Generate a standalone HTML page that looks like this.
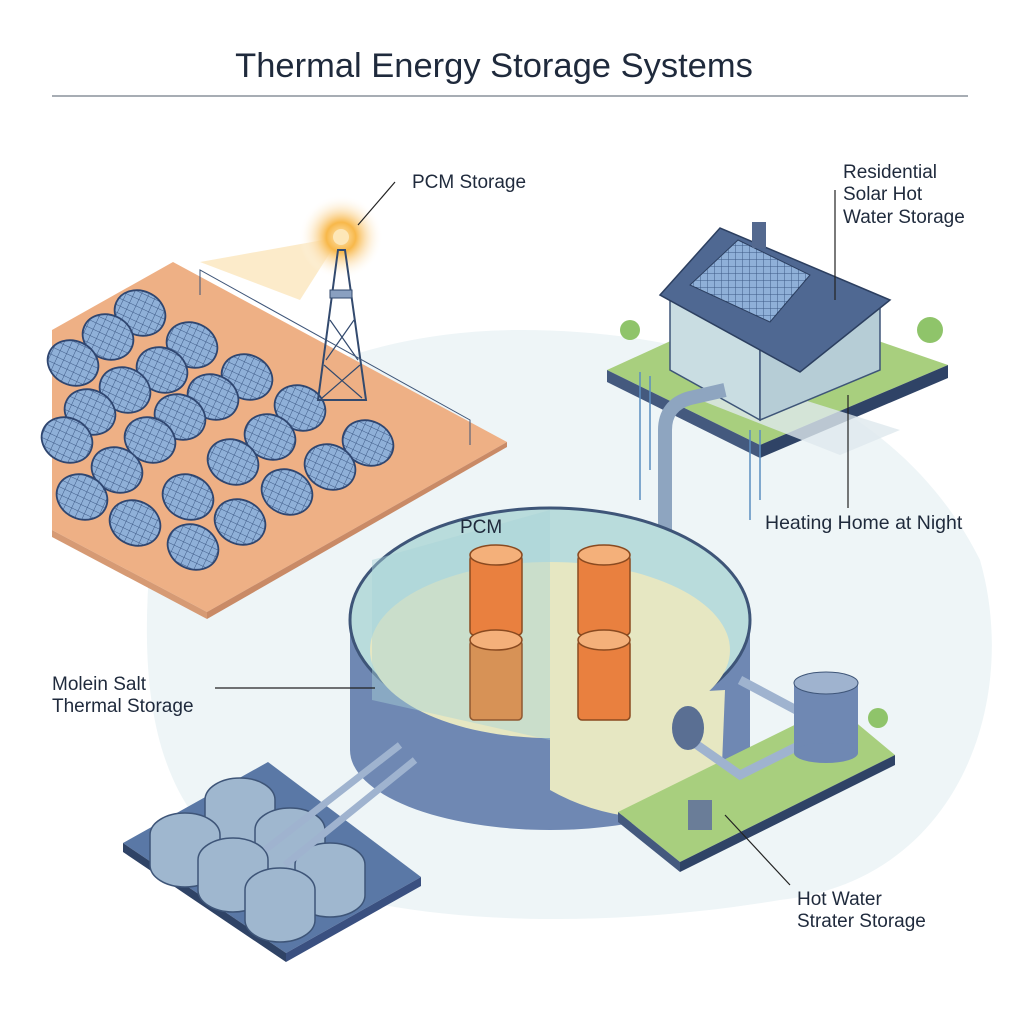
<!DOCTYPE html>
<html><head><meta charset="utf-8"><style>
html,body{margin:0;padding:0;background:#fff;}
svg{display:block}
text{font-family:"Liberation Sans",sans-serif;fill:#1f2a3c}
</style></head><body>
<svg width="1024" height="1024" viewBox="0 0 1024 1024">
<defs>
<pattern id="grid" width="7" height="7" patternUnits="userSpaceOnUse">
<rect width="7" height="7" fill="#8fb0d8"/><path d="M0,0 H7 M0,0 V7" stroke="#3e5a86" stroke-width="1"/>
</pattern>
<radialGradient id="sun"><stop offset="0" stop-color="#fde7b8"/><stop offset="0.35" stop-color="#f8b84a"/><stop offset="0.6" stop-color="#fbd9a0" stop-opacity="0.7"/><stop offset="1" stop-color="#fff" stop-opacity="0"/></radialGradient>
</defs>
<rect width="1024" height="1024" fill="#fff"/>
<text x="494" y="77" font-size="34.5" text-anchor="middle" fill="#1e2a44">Thermal Energy Storage Systems</text>
<line x1="52" y1="96" x2="968" y2="96" stroke="#8a929c" stroke-width="1.5"/>

<path d="M150,560 C160,420 330,330 520,330 C720,330 900,400 980,560 C1020,700 960,880 780,900 C600,930 380,930 240,860 C150,800 140,680 150,560Z" fill="#eef5f7"/>

<!-- solar field -->
<path d="M52,330 L173,262 L507,442 L207,612 L52,530Z" fill="#eeb085"/>
<path d="M52,530 L207,612 L207,619 L52,537Z" fill="#d69a74"/>
<path d="M207,612 L507,442 L507,447 L207,619Z" fill="#c98a66"/>
<path d="M200,262 L340,237 L300,300Z" fill="#fbe2b4" opacity="0.7"/>
<g fill="url(#grid)" stroke="#2f4670" stroke-width="1.8">
<ellipse cx="140" cy="313" rx="26" ry="22" transform="rotate(25 140 313)"/>
<ellipse cx="108" cy="337" rx="26" ry="22" transform="rotate(25 108 337)"/>
<ellipse cx="192" cy="345" rx="26" ry="22" transform="rotate(25 192 345)"/>
<ellipse cx="73" cy="363" rx="26" ry="22" transform="rotate(25 73 363)"/>
<ellipse cx="162" cy="370" rx="26" ry="22" transform="rotate(25 162 370)"/>
<ellipse cx="247" cy="377" rx="26" ry="22" transform="rotate(25 247 377)"/>
<ellipse cx="125" cy="390" rx="26" ry="22" transform="rotate(25 125 390)"/>
<ellipse cx="213" cy="397" rx="26" ry="22" transform="rotate(25 213 397)"/>
<ellipse cx="90" cy="412" rx="26" ry="22" transform="rotate(25 90 412)"/>
<ellipse cx="180" cy="417" rx="26" ry="22" transform="rotate(25 180 417)"/>
<ellipse cx="300" cy="408" rx="26" ry="22" transform="rotate(25 300 408)"/>
<ellipse cx="67" cy="440" rx="26" ry="22" transform="rotate(25 67 440)"/>
<ellipse cx="150" cy="440" rx="26" ry="22" transform="rotate(25 150 440)"/>
<ellipse cx="270" cy="437" rx="26" ry="22" transform="rotate(25 270 437)"/>
<ellipse cx="368" cy="443" rx="26" ry="22" transform="rotate(25 368 443)"/>
<ellipse cx="117" cy="470" rx="26" ry="22" transform="rotate(25 117 470)"/>
<ellipse cx="233" cy="462" rx="26" ry="22" transform="rotate(25 233 462)"/>
<ellipse cx="330" cy="467" rx="26" ry="22" transform="rotate(25 330 467)"/>
<ellipse cx="82" cy="497" rx="26" ry="22" transform="rotate(25 82 497)"/>
<ellipse cx="188" cy="497" rx="26" ry="22" transform="rotate(25 188 497)"/>
<ellipse cx="287" cy="492" rx="26" ry="22" transform="rotate(25 287 492)"/>
<ellipse cx="135" cy="523" rx="26" ry="22" transform="rotate(25 135 523)"/>
<ellipse cx="240" cy="522" rx="26" ry="22" transform="rotate(25 240 522)"/>
<ellipse cx="193" cy="547" rx="26" ry="22" transform="rotate(25 193 547)"/>
</g>
<circle cx="341" cy="237" r="42" fill="url(#sun)"/>
<circle cx="341" cy="237" r="8" fill="#fde7b8"/>
<path d="M338,250 L318,400 L366,400 L345,250Z" fill="none" stroke="#334a6e" stroke-width="2"/>
<rect x="330" y="290" width="22" height="8" fill="#8aa0c0" stroke="#334a6e"/>
<path d="M330,320 L358,360 M354,320 L326,360 M324,365 L362,398 M360,365 L322,398" stroke="#334a6e" stroke-width="1.2"/>
<path d="M200,295 L200,270 L470,420 L470,445" fill="none" stroke="#3e5578" stroke-width="1"/>
<line x1="395" y1="182" x2="358" y2="225" stroke="#222" stroke-width="1.2"/>
<text x="412" y="188" font-size="19">PCM Storage</text>

<!-- house platform -->
<path d="M607,370 L760,300 L948,365 L760,445Z" fill="#a8cf7e"/>
<path d="M607,370 L760,445 L760,458 L607,382Z" fill="#44597e"/>
<path d="M760,445 L948,365 L948,378 L760,458Z" fill="#2f4366"/>
<path d="M700,400 L740,380 L900,430 L840,455Z" fill="#dfe9ee" opacity="0.8"/>
<path d="M670,300 L670,370 L760,420 L760,330Z" fill="#c9dde2" stroke="#3e5578" stroke-width="1.5"/>
<path d="M760,330 L760,420 L880,370 L880,300Z" fill="#b6cdd6" stroke="#3e5578" stroke-width="1.5"/>
<path d="M660,295 L720,228 L890,300 L800,372Z" fill="#4f6892" stroke="#2c3f60" stroke-width="1.5"/>
<path d="M690,285 L738,240 L810,275 L770,322Z" fill="url(#grid)" stroke="#2c3f60" stroke-width="1"/>
<rect x="752" y="222" width="14" height="26" fill="#54698f"/>
<line x1="835" y1="190" x2="835" y2="300" stroke="#222" stroke-width="1.2"/>
<text x="843" y="178" font-size="19">Residential</text>
<text x="843" y="200" font-size="19">Solar Hot</text>
<text x="843" y="223" font-size="19">Water Storage</text>
<circle cx="630" cy="330" r="10" fill="#8fc46a"/><circle cx="930" cy="330" r="13" fill="#8fc46a"/>
<line x1="848" y1="395" x2="848" y2="508" stroke="#222" stroke-width="1.2"/>
<text x="765" y="529" font-size="19.5">Heating Home at Night</text>

<path d="M665,585 L665,430 Q665,405 690,398 L725,390" fill="none" stroke="#8ea5c0" stroke-width="14"/>
<path d="M640,372 L640,500 M650,376 L650,470 M750,430 L750,520 M760,430 L760,500" stroke="#5b8ec1" stroke-width="1.5"/>

<!-- main tank -->
<path d="M350,620 L350,750 A200,80 0 0 0 750,750 L750,620Z" fill="#6f88b3"/>
<ellipse cx="550" cy="620" rx="200" ry="112" fill="#b9dcdc" stroke="#3e5578" stroke-width="3"/>
<ellipse cx="550" cy="650" rx="180" ry="88" fill="#e6e7c2"/>
<path d="M550,700 L550,790 Q620,830 720,815 L725,690Z" fill="#e6e7c2"/>
<path d="M550,510 L372,560 L372,700 L550,740Z" fill="#a9d3d6" opacity="0.45"/>
<g stroke="#8a4a20" stroke-width="1.5">
<rect x="470" y="555" width="52" height="80" rx="4" fill="#e9803f"/><ellipse cx="496" cy="555" rx="26" ry="10" fill="#f4b07a"/>
<rect x="578" y="555" width="52" height="80" rx="4" fill="#e9803f"/><ellipse cx="604" cy="555" rx="26" ry="10" fill="#f4b07a"/>
<rect x="470" y="640" width="52" height="80" rx="4" fill="#d98a4a" opacity="0.9"/><ellipse cx="496" cy="640" rx="26" ry="10" fill="#f4b07a"/>
<rect x="578" y="640" width="52" height="80" rx="4" fill="#e9803f"/><ellipse cx="604" cy="640" rx="26" ry="10" fill="#f4b07a"/>
</g>
<text x="460" y="533" font-size="19">PCM</text>
<line x1="215" y1="688" x2="375" y2="688" stroke="#222" stroke-width="1.2"/>
<text x="52" y="690" font-size="19">Molein Salt</text>
<text x="52" y="712" font-size="19">Thermal Storage</text>

<!-- right platform -->
<path d="M618,812 L835,705 L895,755 L680,862Z" fill="#a8cf7e"/>
<path d="M618,812 L680,862 L680,872 L618,822Z" fill="#44597e"/>
<path d="M680,862 L895,755 L895,765 L680,872Z" fill="#2f4366"/>
<path d="M740,680 L800,712 M690,740 L740,775 L800,745" fill="none" stroke="#9fb3cf" stroke-width="9"/>
<ellipse cx="688" cy="728" rx="16" ry="22" fill="#5a6f93"/>
<rect x="794" y="683" width="64" height="70" fill="#6f88b3"/>
<ellipse cx="826" cy="753" rx="32" ry="10" fill="#6f88b3"/>
<ellipse cx="826" cy="683" rx="32" ry="11" fill="#9fb3cf" stroke="#3e5578"/>
<circle cx="878" cy="718" r="10" fill="#8fc46a"/>
<rect x="688" y="800" width="24" height="30" fill="#6a7d98"/>
<line x1="790" y1="885" x2="725" y2="815" stroke="#222" stroke-width="1.2"/>
<text x="797" y="905" font-size="19">Hot Water</text>
<text x="797" y="927" font-size="19">Strater Storage</text>

<!-- bottom left storage -->
<path d="M123,843 L268,762 L421,877 L286,953Z" fill="#5a78a6"/>
<path d="M123,843 L286,953 L286,962 L123,852Z" fill="#2f4366"/>
<path d="M286,953 L421,877 L421,886 L286,962Z" fill="#3a5080"/>
<g fill="#9fb7cf" stroke="#3e5578" stroke-width="1.5">
<path d="M205,800 a35,22 0 0 1 70,0 v30 a35,22 0 0 1 -70,0Z"/>
<path d="M150,835 a35,22 0 0 1 70,0 v30 a35,22 0 0 1 -70,0Z"/>
<path d="M255,830 a35,22 0 0 1 70,0 v30 a35,22 0 0 1 -70,0Z"/>
<path d="M198,860 a35,22 0 0 1 70,0 v30 a35,22 0 0 1 -70,0Z"/>
<path d="M295,865 a35,22 0 0 1 70,0 v30 a35,22 0 0 1 -70,0Z"/>
<path d="M245,890 a35,22 0 0 1 70,0 v30 a35,22 0 0 1 -70,0Z"/>
</g>
<path d="M265,850 L400,745 M285,865 L415,760" stroke="#9fb3cf" stroke-width="7"/>
</svg>
</body></html>
